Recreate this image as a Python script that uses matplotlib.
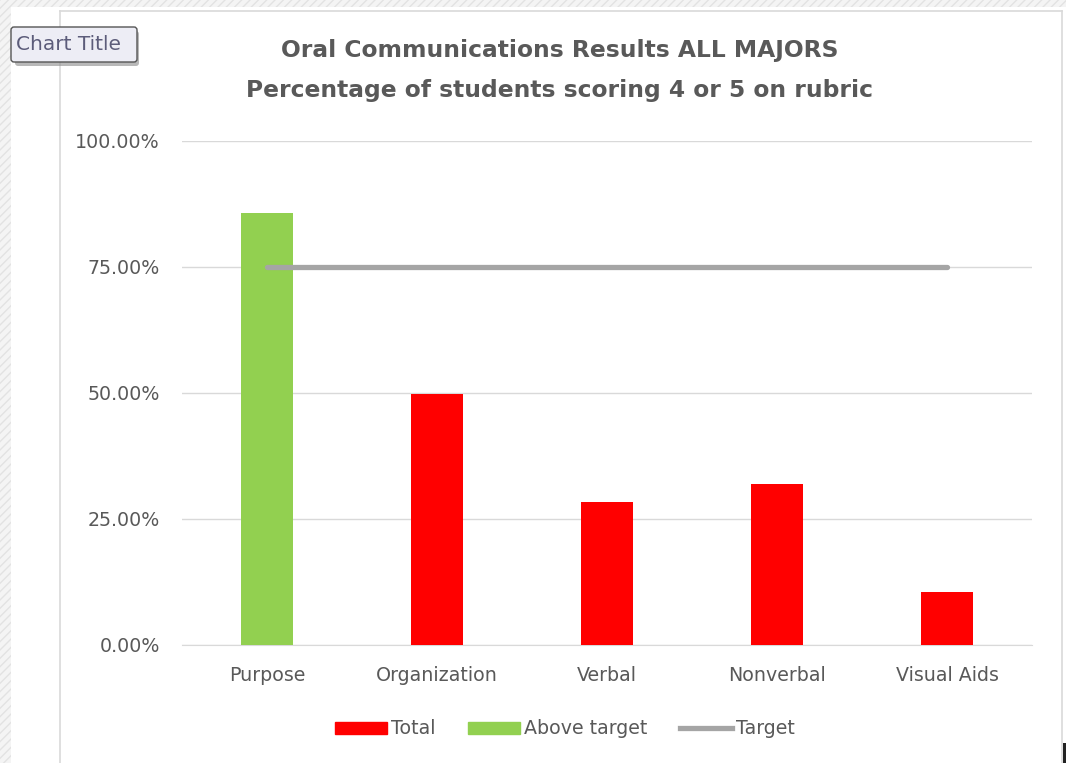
import numpy as np
import matplotlib.pyplot as plt
from matplotlib.patches import Rectangle, FancyBboxPatch
from matplotlib.lines import Line2D

# data
categories = ['Purpose', 'Organization', 'Verbal', 'Nonverbal', 'Visual Aids']
total = [85.7, 49.8, 28.4, 31.9, 10.5]
above_target = [85.7, np.nan, np.nan, np.nan, np.nan]
target = [75, 75, 75, 75, 75]
yticks = [0, 25, 50, 75, 100]
title_lines = ['Oral Communications Results ALL MAJORS',
               'Percentage of students scoring 4 or 5 on rubric']

W, H = 1066, 763
fig = plt.figure(figsize=(W / 100, H / 100), dpi=100)

# background: hatched sheet around the chart frame
bg = fig.add_axes([0, 0, 1, 1], zorder=-5)
bg.set_xlim(0, W)
bg.set_ylim(H, 0)
bg.axis('off')
for (x0, y0, w, h) in [(0, 0, W, 7), (0, 0, 11, H)]:
    bg.add_patch(Rectangle((x0, y0), w, h, facecolor='#f4f4f4', edgecolor='#e2e2e2',
                           hatch='////', lw=0))
bg.plot([60, 60], [11, H], color='#d9d9d9', lw=1.2, zorder=1)
bg.plot([60, 1062], [11, 11], color='#d9d9d9', lw=1.2, zorder=1)
bg.plot([1062, 1062], [11, H], color='#d9d9d9', lw=1.2, zorder=1)
bg.add_patch(Rectangle((1063, 743), 3, 20, facecolor='#222222', lw=0))

# "Chart Title" tooltip
bg.add_patch(FancyBboxPatch((15, 31), 124, 35, boxstyle='round,pad=0,rounding_size=3',
                            facecolor='#8a8a8a', edgecolor='none', alpha=0.6, zorder=3))
bg.add_patch(FancyBboxPatch((11, 27), 126, 35, boxstyle='round,pad=0,rounding_size=3',
                            facecolor='#ededf5', edgecolor='#555555', lw=1, zorder=4))
bg.text(16, 45, 'Chart Title', fontsize=14.5, color='#5c5c7a', va='center', ha='left',
        zorder=5)

# plot area
ax = fig.add_axes([182 / W, 1 - 645 / H, 850 / W, 504 / H])
x = np.arange(len(categories))
bw = 0.31
ax.bar(x, total, width=bw, color='#ff0000', label='Total', zorder=3)
ax.bar(x, above_target, width=bw, color='#92d050', label='Above target', zorder=4)
ax.plot(x, target, color='#a5a5a5', lw=3.8, solid_capstyle='round', label='Target', zorder=5)

ax.set_xlim(-0.5, len(categories) - 0.5)
ax.set_ylim(0, 100)
ax.set_yticks(yticks)
ax.set_yticklabels(['%.2f%%' % v for v in yticks])
ax.set_xticks(x)
ax.set_xticklabels(categories)
ax.grid(axis='y', color='#d9d9d9', lw=1, zorder=0)
for s in ['top', 'right', 'left']:
    ax.spines[s].set_visible(False)
ax.spines['bottom'].set_color('#d9d9d9')
ax.tick_params(axis='both', length=0, labelsize=13.7, labelcolor='#595959')
ax.tick_params(axis='y', pad=16)
ax.tick_params(axis='x', pad=15)

# title
fig.text(560 / W, 1 - 50 / H, title_lines[0], ha='center', va='center',
         fontsize=16.8, fontweight='bold', color='#595959')
fig.text(560 / W, 1 - 90 / H, title_lines[1], ha='center', va='center',
         fontsize=16.8, fontweight='bold', color='#595959')

# legend
handles = [Rectangle((0, 0), 1, 1, color='#ff0000'),
           Rectangle((0, 0), 1, 1, color='#92d050'),
           Line2D([], [], color='#a5a5a5', lw=3.8)]
fig.legend(handles, ['Total', 'Above target', 'Target'], loc='center',
           bbox_to_anchor=(565 / W, 1 - 729 / H), ncol=3, frameon=False,
           fontsize=13.7, labelcolor='#595959', handlelength=2.75, handleheight=0.6,
           handletextpad=0.2, columnspacing=1.7)

fig.savefig('out.png', dpi=100)
